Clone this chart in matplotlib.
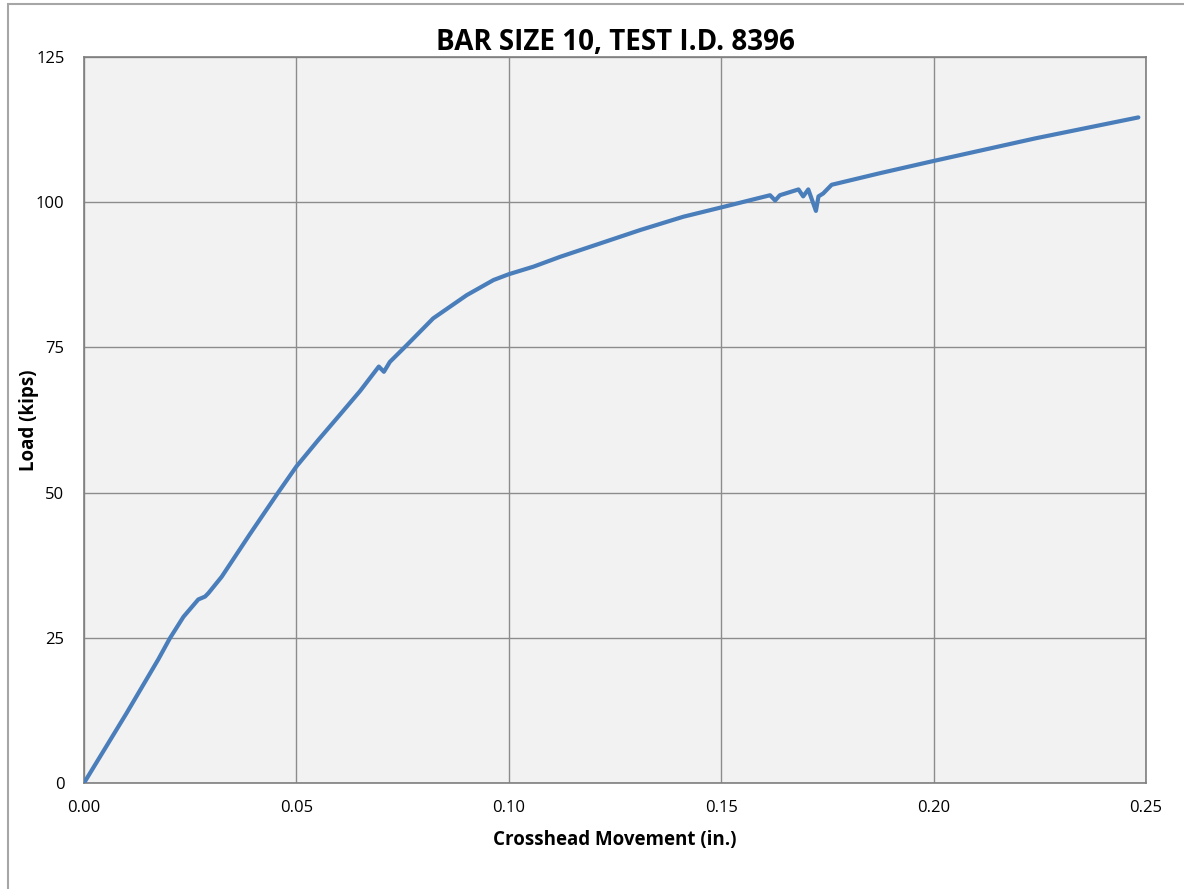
import numpy as np
import matplotlib
matplotlib.use("Agg")
import matplotlib.pyplot as plt
import matplotlib.patches as patches

# load-displacement data
movement = [0.0, 0.004, 0.010, 0.0175, 0.0202, 0.0234, 0.0269, 0.0285, 0.0293,
            0.0324, 0.0391, 0.0457, 0.050, 0.0552, 0.060, 0.065, 0.0694, 0.0706,
            0.0720, 0.0760, 0.0822, 0.0901, 0.0964, 0.100, 0.1058, 0.1121,
            0.1215, 0.1309, 0.1411, 0.150, 0.1615, 0.1627, 0.1638, 0.1682, 0.1693,
            0.1705, 0.1723, 0.1729, 0.1740, 0.1760, 0.1874, 0.200, 0.2240, 0.2482]
load = [0.0, 4.8, 12.0, 21.3, 24.9, 28.6, 31.6, 32.1, 32.7,
        35.5, 42.9, 50.0, 54.5, 59.1, 63.2, 67.5, 71.7, 70.8,
        72.5, 75.4, 80.0, 84.0, 86.6, 87.6, 88.9, 90.6,
        92.9, 95.2, 97.5, 99.1, 101.2, 100.3, 101.2, 102.2, 101.0,
        102.2, 98.5, 101.0, 101.5, 103.0, 105.0, 107.1, 111.0, 114.6]

x_ticks = [0.00, 0.05, 0.10, 0.15, 0.20, 0.25]
y_ticks = [0, 25, 50, 75, 100, 125]

plt.rcParams['font.family'] = ['Open Sans', 'DejaVu Sans']

fig = plt.figure(figsize=(11.84, 8.89), dpi=100)
ax = fig.add_axes([84 / 1184, 1 - 783 / 889, (1146 - 84) / 1184, (783 - 57) / 889])
ax.set_facecolor("#F2F2F2")

ax.plot(movement, load, color="#4A7EBB", linewidth=3.0, solid_capstyle="round",
        solid_joinstyle="round", zorder=3)

ax.set_xlim(0, 0.25)
ax.set_ylim(0, 125)
ax.set_xticks(x_ticks)
ax.set_xticklabels([f"{t:.2f}" for t in x_ticks])
ax.set_yticks(y_ticks)
ax.set_yticklabels([str(t) for t in y_ticks])
ax.tick_params(length=0, labelsize=12, colors="black")
ax.tick_params(axis="x", pad=12)
ax.tick_params(axis="y", pad=14)
ax.grid(True, color="#8C8C8C", linewidth=1.0, zorder=1)
ax.set_axisbelow(True)
for s in ax.spines.values():
    s.set_color("#7F7F7F")
    s.set_linewidth(1.2)

ax.set_title("BAR SIZE 10, TEST I.D. 8396", fontsize=20, fontweight="bold", pad=2)
ax.set_xlabel("Crosshead Movement (in.)", fontsize=13.5, fontweight="bold", labelpad=10)
ax.set_ylabel("Load (kips)", fontsize=13.5, fontweight="bold")
ax.yaxis.set_label_coords(-45 / 1062, 0.5)

# outer chart border (cut off at right and bottom)
fig.patches.append(patches.Rectangle((8 / 1184, -0.1), 1.2, 1.1 - 4 / 889, fill=False,
                                     edgecolor="#A6A6A6", linewidth=1.5,
                                     transform=fig.transFigure, figure=fig))

fig.savefig("out.png", dpi=100)
